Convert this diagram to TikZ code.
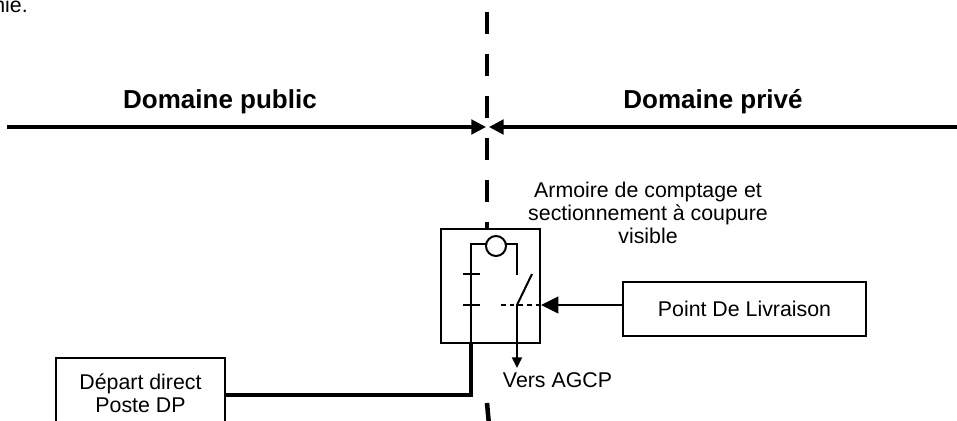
\documentclass[tikz,border=0pt]{standalone}
\usepackage{fontspec}
\setmainfont{Liberation Sans}
\usetikzlibrary{arrows.meta}

\begin{document}
\begin{tikzpicture}[x=0.75pt, y=-0.75pt,
    wire/.style={line width=1.5pt},
    petit/.style={font=\fontsize{16}{17.5}\selectfont, align=center},
    titre/.style={font=\bfseries\fontsize{19.5}{22}\selectfont},
    boite/.style={draw, line width=1.2pt, fill=white, petit}]
  \useasboundingbox (0,0) rectangle (957,421);
  % texte coupe en haut
  \node[petit, anchor=base east, inner sep=0pt] (amorce) at (28,12.5) {nie.};
  % domaines
  \node[titre] (pub) at (220,102) {Domaine public};
  \node[titre] (prive) at (713,102) {Domaine privé};
  \coordinate (g) at (7,127);
  \coordinate (d) at (957,127);
  \draw[line width=2.3pt, -{Triangle[length=11pt,width=11pt]}] (g) -- (486,127);
  \draw[line width=2.3pt, -{Triangle[length=11pt,width=11pt]}] (d) -- (489,127);
  % armoire
  \node[draw, line width=1.5pt, fill=white, minimum width=74.5pt, minimum height=85.5pt, inner sep=0pt] (armoire) at (490.3,286) {};
  \node[petit] (legende) at (648,213) {Armoire de comptage et\\sectionnement à coupure\\visible};
  \draw[line width=3.4pt, dash pattern=on 16.5pt off 15pt] (487,12) -- (armoire.north -| 487,0);
  \draw[line width=3.4pt] (487,403) -- (489,425);
  \coordinate (hg) at (471,244);
  \coordinate (hd) at (517,244);
  \coordinate (sw) at (517,305);
  \draw[wire] (armoire.south -| hg) -- (hg) -- (hd) -- (517,275);
  \node[circle, draw, wire, fill=white, minimum size=15pt, inner sep=0pt] (compteur) at (496,246) {};
  \draw[wire] (463,274) -- (480,274);
  \draw[wire] (463,305) -- (480,305);
  \draw[wire] (sw) -- (532,274);
  \draw[wire, dash pattern=on 3.5pt off 3pt] (501,305) -- (armoire.east |- sw);
  \draw[wire, -{Triangle[length=8pt,width=7.5pt]}] (sw) -- (517,368);
  \node[petit] (vers) at (557.5,380) {Vers AGCP};
  % point de livraison
  \node[boite, minimum width=182pt, minimum height=40.5pt] (pdl) at (744.5,309) {Point De Livraison};
  \draw[wire, -{Triangle[length=13pt,width=12.5pt]}] (pdl.west |- sw) -- (armoire.east |- sw);
  % depart
  \node[boite, line width=1pt, minimum width=126.75pt, minimum height=53.25pt] (depart) at (140.5,393.5) {Départ direct\\Poste DP};
  \coordinate (coude) at (471,395);
  \draw[line width=3pt] (armoire.south -| coude) -- (coude) -- (coude -| depart.east);
\end{tikzpicture}
\end{document}
